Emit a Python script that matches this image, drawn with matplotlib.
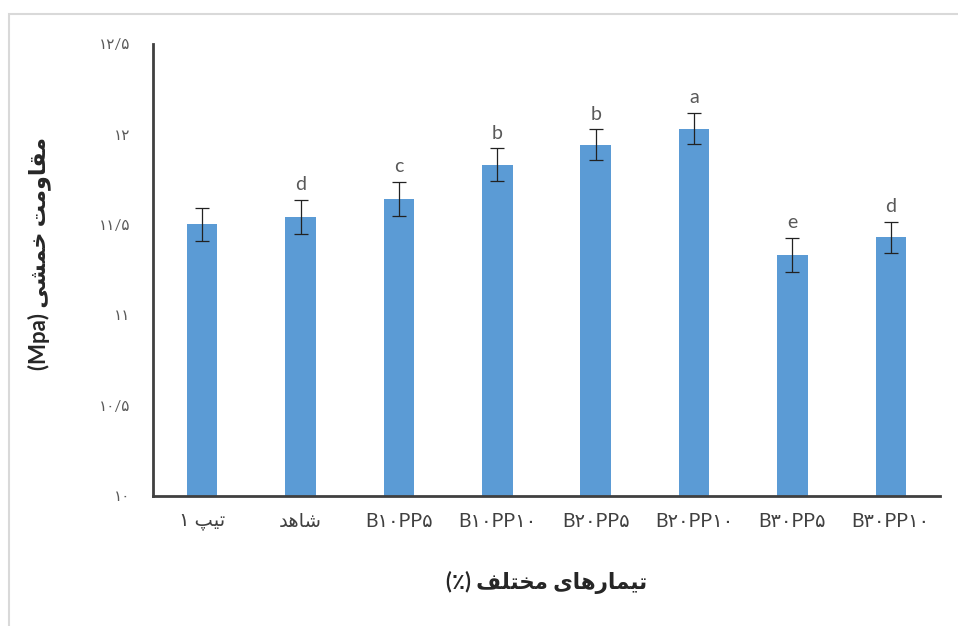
import matplotlib
matplotlib.use('Agg')
import matplotlib.pyplot as plt
from matplotlib.patches import Rectangle

# Persian letters -> presentation forms (isolated, final, initial, medial)
FORMS = {
    'ا': ('\uFE8D', '\uFE8E', None, None),
    'ت': ('\uFE95', '\uFE96', '\uFE97', '\uFE98'),
    'پ': ('\uFB56', '\uFB57', '\uFB58', '\uFB59'),
    'خ': ('\uFEA5', '\uFEA6', '\uFEA7', '\uFEA8'),
    'د': ('\uFEA9', '\uFEAA', None, None),
    'ر': ('\uFEAD', '\uFEAE', None, None),
    'ش': ('\uFEB5', '\uFEB6', '\uFEB7', '\uFEB8'),
    'ف': ('\uFED1', '\uFED2', '\uFED3', '\uFED4'),
    'ق': ('\uFED5', '\uFED6', '\uFED7', '\uFED8'),
    'ل': ('\uFEDD', '\uFEDE', '\uFEDF', '\uFEE0'),
    'م': ('\uFEE1', '\uFEE2', '\uFEE3', '\uFEE4'),
    'ه': ('\uFEE9', '\uFEEA', '\uFEEB', '\uFEEC'),
    'و': ('\uFEED', '\uFEEE', None, None),
    'ی': ('\uFBFC', '\uFBFD', '\uFBFE', '\uFBFF'),
}


def fa(text):
    # shape Persian text and put it in visual (left to right) order
    out = []
    for i, ch in enumerate(text):
        if ch not in FORMS:
            out.append(ch)
            continue
        prev = text[i - 1] if i > 0 else None
        nxt = text[i + 1] if i + 1 < len(text) else None
        iso, fin, ini, med = FORMS[ch]
        join_prev = prev in FORMS and FORMS[prev][2] is not None
        join_next = nxt in FORMS and ini is not None
        if join_prev and join_next:
            out.append(med)
        elif join_prev:
            out.append(fin)
        elif join_next:
            out.append(ini)
        else:
            out.append(iso)
    return ''.join(reversed(out))


# data
categories = ['۱ ' + fa('تیپ'), fa('شاهد'), 'B۱۰PP۵', 'B۱۰PP۱۰',
              'B۲۰PP۵', 'B۲۰PP۱۰', 'B۳۰PP۵', 'B۳۰PP۱۰']
values = [11.50, 11.54, 11.64, 11.83, 11.94, 12.03, 11.33, 11.43]
errors = [0.09, 0.095, 0.095, 0.09, 0.085, 0.085, 0.095, 0.085]
letters = ['', 'd', 'c', 'b', 'b', 'a', 'e', 'd']
yticks = [10, 10.5, 11, 11.5, 12, 12.5]
ytick_labels = ['۱۰', '۱۰/۵', '۱۱', '۱۱/۵', '۱۲', '۱۲/۵']
xlabel = '(٪) ' + fa('تیمارهای مختلف')
ylabel = '(Mpa) ' + fa('مقاومت خمشی')

plt.rcParams['font.family'] = ['Lato', 'DejaVu Sans']

fig = plt.figure(figsize=(9.58, 6.26), dpi=100)
ax = fig.add_axes([0.1597, 0.2077, 0.8215, 0.7228])

x = range(len(values))
ax.bar(x, values, width=0.31, color='#5B9BD5', zorder=2)
ax.errorbar(x, values, yerr=errors, fmt='none', ecolor='#222222',
            elinewidth=0.9, capsize=5, capthick=0.9, zorder=3)

for xi, v, e, lab in zip(x, values, errors, letters):
    if lab:
        ax.annotate(lab, (xi, v + e), xytext=(0, 5), textcoords='offset points',
                    ha='center', va='bottom', fontsize=14, color='#595959')

ax.set_ylim(10, 12.5)
ax.set_xlim(-0.5, 7.5)
ax.set_yticks(yticks)
ax.set_yticklabels(ytick_labels)
ax.set_xticks(list(x))
ax.set_xticklabels(categories)
ax.tick_params(axis='y', length=0, pad=16, labelsize=11, labelcolor='#595959')
ax.tick_params(axis='x', length=0, pad=12, labelsize=14, labelcolor='#404040')

for side in ['top', 'right']:
    ax.spines[side].set_visible(False)
for side in ['left', 'bottom']:
    ax.spines[side].set_color('#404040')
    ax.spines[side].set_linewidth(2)

ax.set_xlabel(xlabel, fontsize=15.5, fontweight='bold', color='#262626', labelpad=30)
ax.set_ylabel(ylabel, fontsize=16, fontweight='bold', color='#262626')
ax.yaxis.set_label_coords(-0.13, 0.535)

# light frame around the chart
fig.patches.append(Rectangle((9 / 958, -0.05), 1.1, 1 - 14 / 626 + 0.05,
                             transform=fig.transFigure, fill=False,
                             edgecolor='#d9d9d9', linewidth=1.5))

fig.savefig('out.png', dpi=100)
